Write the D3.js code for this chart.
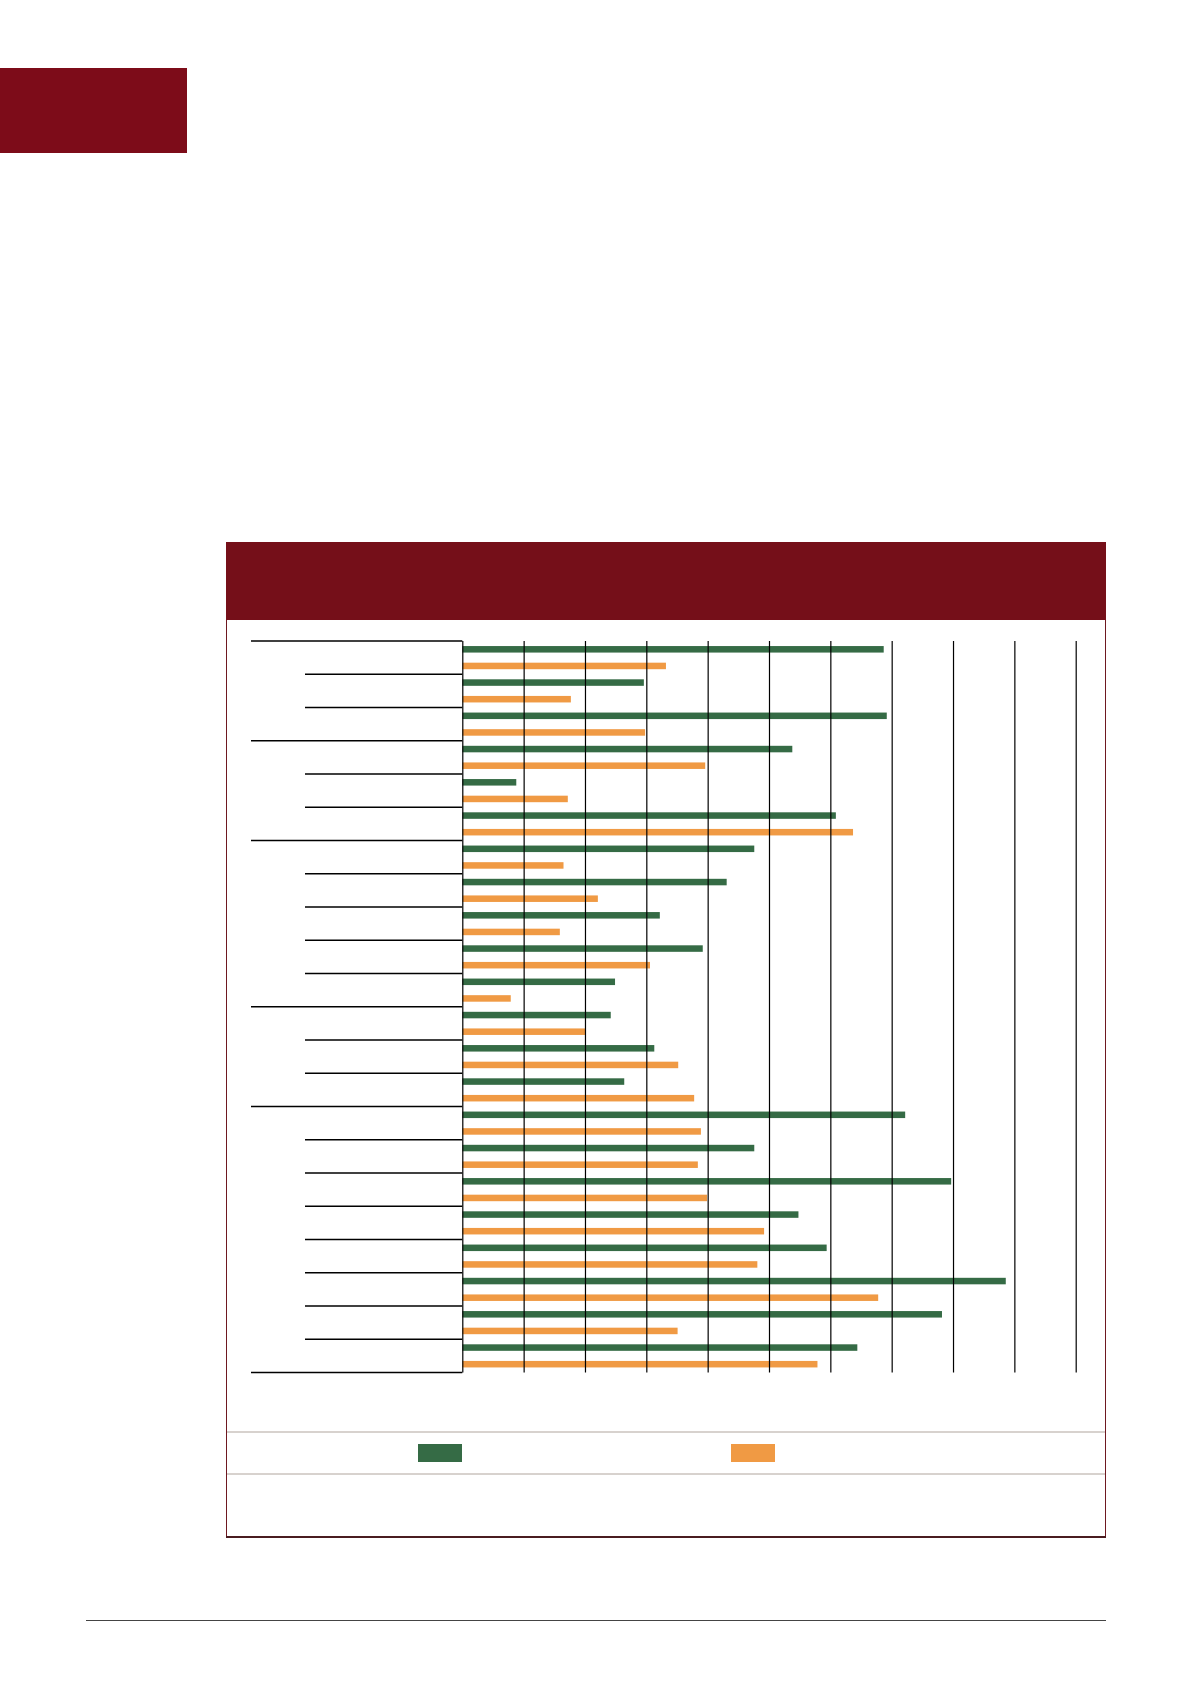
<!DOCTYPE html>
<html>
<head>
<meta charset="utf-8">
<script src="https://cdn.jsdelivr.net/npm/d3@7"></script>
<style>
    body { margin: 0; background: #fff; }
    #chart-area { width: 1191px; height: 1684px; }
</style>
</head>
<body>
<div id="chart-area"></div>
<script>

// rows of the chart (labels are blank in the source), grouped in 5 blocks
const groupSizes = [3, 3, 5, 3, 8];
const rowIds = d3.range(1, 23).map(i => "r" + i);

// series values (scale 0-100, 10 grid steps)
const greenValues = [68.7, 29.6, 69.2, 53.8, 8.8, 60.9, 47.6, 43.1, 32.2, 39.2, 24.9,
                     24.2, 31.3, 26.4, 72.2, 47.6, 79.7, 54.8, 59.4, 88.6, 78.2, 64.4];
const orangeValues = [33.2, 17.7, 29.8, 39.6, 17.2, 63.7, 16.5, 22.1, 15.9, 30.6, 7.9,
                      20.0, 35.2, 37.8, 38.9, 38.4, 39.9, 49.2, 48.1, 67.8, 35.1, 57.9];
const seriesKeys = ["green", "orange"];
const tickValues = d3.range(0, 101, 10);

class HBarChart {
    constructor(parentElement) {
        this.parentElement = parentElement;
        this.data = rowIds.map((id, i) => ({ id: id, green: greenValues[i], orange: orangeValues[i] }));
    }

    initVis() {
        let vis = this;

        vis.svg = d3.select("#" + vis.parentElement).append("svg")
            .attr("width", 1191)
            .attr("height", 1684);

        // page decoration: red block top left
        vis.svg.append("rect")
            .attr("x", 0).attr("y", 68)
            .attr("width", 187).attr("height", 85)
            .attr("fill", "#7d0c19");

        // box + header
        vis.svg.append("rect")
            .attr("x", 226.5).attr("y", 542.5)
            .attr("width", 879).attr("height", 994)
            .attr("fill", "#fff")
            .attr("stroke", "#6e1820")
            .attr("stroke-width", 1);
        vis.svg.append("line")
            .attr("x1", 226).attr("x2", 1106)
            .attr("y1", 1537).attr("y2", 1537)
            .attr("stroke", "#4a1c20")
            .attr("stroke-width", 2);
        vis.svg.append("rect")
            .attr("x", 226).attr("y", 542)
            .attr("width", 880).attr("height", 78)
            .attr("fill", "#750f19");

        // footer rule
        vis.svg.append("line")
            .attr("x1", 86).attr("x2", 1106)
            .attr("y1", 1620.5).attr("y2", 1620.5)
            .attr("stroke", "#444")
            .attr("stroke-width", 1);

        vis.plot = { left: 462.3, right: 1075.7, top: 641, bottom: 1372.5 };

        vis.xScale = d3.scaleLinear()
            .domain([0, 100])
            .range([vis.plot.left, vis.plot.right]);

        vis.yScale = d3.scaleBand()
            .domain(rowIds)
            .range([vis.plot.top, vis.plot.bottom])
            .padding(0);

        vis.ySub = d3.scaleBand()
            .domain(seriesKeys)
            .range([0, vis.yScale.bandwidth()])
            .paddingInner(0.608)
            .paddingOuter(0.304);

        vis.colorScale = d3.scaleOrdinal()
            .domain(seriesKeys)
            .range(["#356b45", "#f09a44"]);

        vis.updateVis();
    }

    updateVis() {
        const vis = this;

        // bars
        const rows = vis.svg.selectAll(".row")
            .data(vis.data, d => d.id)
            .enter().append("g")
            .attr("class", "row")
            .attr("transform", d => `translate(0, ${vis.yScale(d.id)})`);

        rows.selectAll(".bar")
            .data(d => seriesKeys.map(k => ({ key: k, value: d[k] })))
            .enter().append("rect")
            .attr("class", "bar")
            .attr("x", vis.xScale(0))
            .attr("y", d => vis.ySub(d.key))
            .attr("width", d => vis.xScale(d.value) - vis.xScale(0))
            .attr("height", vis.ySub.bandwidth())
            .attr("fill", d => vis.colorScale(d.key));

        // vertical grid lines drawn over the bars
        vis.xAxis = d3.axisBottom(vis.xScale)
            .tickValues(tickValues)
            .tickSize(-(vis.plot.bottom - vis.plot.top))
            .tickFormat("");

        vis.svg.append("g")
            .attr("class", "x-axis")
            .attr("transform", `translate(0, ${vis.plot.bottom})`)
            .call(vis.xAxis)
            .call(g => g.select(".domain").remove())
            .selectAll("line")
            .attr("stroke", "#000")
            .attr("stroke-width", 1.2);

        // category separators: long lines at group edges, short ones between rows
        const groupEdges = new Set([0]);
        let acc = 0;
        groupSizes.forEach(n => { acc += n; groupEdges.add(acc); });

        const boundaries = d3.range(0, rowIds.length + 1);
        vis.svg.selectAll(".cat-line")
            .data(boundaries)
            .enter().append("line")
            .attr("class", "cat-line")
            .attr("x1", i => groupEdges.has(i) ? 251 : 305)
            .attr("x2", vis.xScale(0))
            .attr("y1", i => i < rowIds.length ? vis.yScale(rowIds[i]) : vis.plot.bottom)
            .attr("y2", i => i < rowIds.length ? vis.yScale(rowIds[i]) : vis.plot.bottom)
            .attr("stroke", "#000")
            .attr("stroke-width", 1.3);

        // legend strip
        [1432, 1474].forEach(y => {
            vis.svg.append("line")
                .attr("x1", 227).attr("x2", 1105)
                .attr("y1", y).attr("y2", y)
                .attr("stroke", "#b0a59d")
                .attr("stroke-width", 1);
        });

        const legendX = { green: 418, orange: 731 };
        vis.svg.selectAll(".legend-swatch")
            .data(seriesKeys)
            .enter().append("rect")
            .attr("class", "legend-swatch")
            .attr("x", d => legendX[d])
            .attr("y", 1444)
            .attr("width", 44)
            .attr("height", 18)
            .attr("fill", d => vis.colorScale(d));
    }
}

const chart = new HBarChart("chart-area");
chart.initVis();
</script>
</body>
</html>
